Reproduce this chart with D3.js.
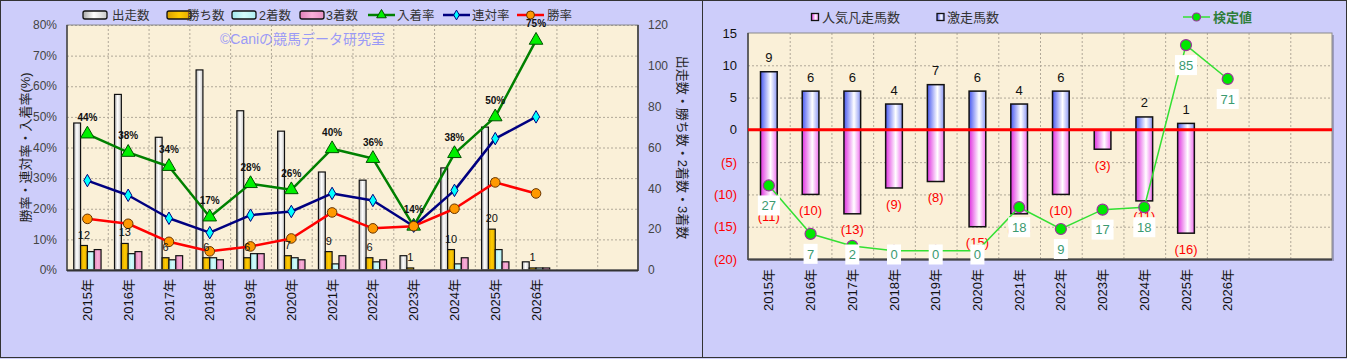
<!DOCTYPE html>
<html><head><meta charset="utf-8">
<script src="https://cdn.jsdelivr.net/npm/d3@7/dist/d3.min.js"></script>
<style>
html,body{margin:0;padding:0;background:#cdcdfa;}
svg{display:block;font-family:"Liberation Sans","Noto Sans CJK JP",sans-serif;}
</style></head><body>
<svg id="c" width="1347" height="359"></svg>
<script>
// ---------- data ----------
const years = ["2015年","2016年","2017年","2018年","2019年","2020年","2021年","2022年","2023年","2024年","2025年","2026年"];
const slots = 14; // category slots on the axis (last two empty)
const runs    = [72, 86, 65, 98, 78, 68, 48, 44, 7, 50, 70, 4];
const wins    = [12, 13, 6, 6, 6, 7, 9, 6, 1, 10, 20, 1];
const seconds = [9, 8, 5, 6, 8, 6, 3, 4, 0, 3, 10, 1];
const thirds  = [10, 9, 7, 5, 8, 5, 7, 5, 0, 6, 4, 1];
const placeRate    = [44.4, 38.4, 33.8, 17.3, 28.2, 26.2, 39.6, 36.4, 14.3, 38.0, 50.0, 75.0];
const quinellaRate = [29.2, 24.4, 16.9, 12.2, 17.9, 19.1, 25.0, 22.7, 14.3, 26.0, 42.9, 50.0];
const winRate      = [16.7, 15.1, 9.2, 6.1, 7.7, 10.3, 18.8, 13.6, 14.3, 20.0, 28.6, 25.0];
const rateTicks  = [0, 10, 20, 30, 40, 50, 60, 70, 80];
const countTicks = [0, 20, 40, 60, 80, 100, 120];
const leftLegend = ["出走数", "勝ち数", "2着数", "3着数", "入着率", "連対率", "勝率"];

const gekisou  = [9, 6, 6, 4, 7, 6, 4, 6, 0, 2, 1, 0];
const bonsou   = [-11, -10, -13, -9, -8, -15, -13, -10, -3, -11, -16, 0];
const kentei   = [27, 7, 2, 0, 0, 0, 18, 9, 17, 18, 85, 71];
const diffTicks = [15, 10, 5, 0, -5, -10, -15, -20];
const rightLegend = ["人気凡走馬数", "激走馬数", "検定値"];
const watermark = "©Caniの競馬データ研究室";

// ---------- setup ----------
const svg = d3.select("#c");
const defs = svg.append("defs");
function hgrad(id, stops) {
  const g = defs.append("linearGradient").attr("id", id).attr("x1", 0).attr("x2", 1).attr("y1", 0).attr("y2", 0);
  stops.forEach(s => g.append("stop").attr("offset", s[0]).attr("stop-color", s[1]));
}
hgrad("gWhite", [[0, "#a8a8a8"], [0.45, "#ffffff"], [1, "#c8c8c8"]]);
hgrad("gGold", [[0, "#d8a000"], [0.5, "#ffcc00"], [1, "#e0aa00"]]);
hgrad("gCyan", [[0, "#a0e8ec"], [0.5, "#d4fbfb"], [1, "#aeeef0"]]);
hgrad("gPink", [[0, "#e080b8"], [0.5, "#f8b0d8"], [1, "#e890c4"]]);
hgrad("gBlue", [[0, "#4858f0"], [0.6, "#ffffff"], [1, "#8a96f4"]]);
hgrad("gMag", [[0, "#e030e0"], [0.6, "#ffffff"], [1, "#f070f0"]]);

// panels
svg.append("rect").attr("x", 0.5).attr("y", 0.5).attr("width", 702).attr("height", 357).attr("fill", "#cdcdfa").attr("stroke", "#333").attr("stroke-width", 1);
svg.append("rect").attr("x", 702.5).attr("y", 0.5).attr("width", 644).attr("height", 357).attr("fill", "#cdcdfa").attr("stroke", "#333").attr("stroke-width", 1);

const plotBg = "#faf0d8";
const gridColor = "#b0a898";

// ================= LEFT CHART =================
const L = {x0: 67, x1: 638, y0: 25, y1: 270};
const xL = d3.scaleBand().domain(d3.range(slots)).range([L.x0, L.x1]);
const yRate = d3.scaleLinear().domain([0, 80]).range([L.y1, L.y0]);
const yCount = d3.scaleLinear().domain([0, 120]).range([L.y1, L.y0]);
const gL = svg.append("g");
gL.append("rect").attr("x", L.x0).attr("y", L.y0).attr("width", L.x1 - L.x0).attr("height", L.y1 - L.y0).attr("fill", plotBg);
// grid
gL.selectAll(".hg").data(rateTicks.slice(1)).join("line")
  .attr("x1", L.x0).attr("x2", L.x1).attr("y1", d => yRate(d) + 0.5).attr("y2", d => yRate(d) + 0.5)
  .attr("stroke", gridColor).attr("stroke-dasharray", "2,2");
gL.selectAll(".vg").data(d3.range(1, slots)).join("line")
  .attr("x1", d => xL(d) + 0.5).attr("x2", d => xL(d) + 0.5).attr("y1", L.y0).attr("y2", L.y1)
  .attr("stroke", gridColor).attr("stroke-dasharray", "2,2");
gL.append("text").attr("x", 220).attr("y", 44).attr("fill", "#9a9af6").attr("font-size", 14).text(watermark);

// bars
const bw = xL.bandwidth();
const groupW = bw * 0.67;
const xs = d3.scaleBand().domain([0, 1, 2, 3]).range([0, groupW]);
const barSeries = [
  {vals: runs, fill: "url(#gWhite)"},
  {vals: wins, fill: "url(#gGold)"},
  {vals: seconds, fill: "url(#gCyan)"},
  {vals: thirds, fill: "url(#gPink)"}
];
barSeries.forEach((s, si) => {
  gL.append("g").selectAll("rect").data(s.vals).join("rect")
    .attr("x", (d, i) => xL(i) + (bw - groupW) / 2 + xs(si))
    .attr("y", d => yCount(d))
    .attr("width", xs.bandwidth())
    .attr("height", d => L.y1 - yCount(d))
    .attr("fill", s.fill).attr("stroke", "#111").attr("stroke-width", 1.2)
    .attr("display", d => d > 0 ? null : "none");
});
// frame
gL.append("rect").attr("x", L.x0).attr("y", L.y0).attr("width", L.x1 - L.x0).attr("height", L.y1 - L.y0)
  .attr("fill", "none").attr("stroke", "#8a8a8a").attr("stroke-width", 1);
gL.append("line").attr("x1", L.x0).attr("x2", L.x0).attr("y1", L.y0).attr("y2", L.y1 + 1).attr("stroke", "#444").attr("stroke-width", 1.5);
gL.append("line").attr("x1", L.x1).attr("x2", L.x1).attr("y1", L.y0).attr("y2", L.y1 + 1).attr("stroke", "#555").attr("stroke-width", 2);
gL.append("line").attr("x1", L.x0).attr("x2", L.x1).attr("y1", L.y1 + 0.5).attr("y2", L.y1 + 0.5).attr("stroke", "#333").attr("stroke-width", 2);

// lines
const cx = i => xL(i) + bw / 2;
function drawLine(vals, color, width) {
  gL.append("path").datum(vals)
    .attr("d", d3.line().x((d, i) => cx(i)).y(d => yRate(d)))
    .attr("fill", "none").attr("stroke", color).attr("stroke-width", width).attr("stroke-linejoin", "round");
}
drawLine(placeRate, "#008000", 2.5);
gL.append("g").selectAll("path").data(placeRate).join("path")
  .attr("d", d3.symbol(d3.symbolTriangle, 80))
  .attr("transform", (d, i) => `translate(${cx(i)},${yRate(d)})`)
  .attr("fill", "#00f000").attr("stroke", "#005000").attr("stroke-width", 1);
drawLine(quinellaRate, "#000080", 2.5);
gL.append("g").selectAll("path").data(quinellaRate).join("path")
  .attr("d", d3.symbol(d3.symbolDiamond, 45))
  .attr("transform", (d, i) => `translate(${cx(i)},${yRate(d)})`)
  .attr("fill", "#00ffff").attr("stroke", "#000080").attr("stroke-width", 1);
drawLine(winRate, "#ff0000", 2.5);
gL.append("g").selectAll("circle").data(winRate).join("circle")
  .attr("cx", (d, i) => cx(i)).attr("cy", d => yRate(d)).attr("r", 4.8)
  .attr("fill", "#ff9900").attr("stroke", "#663300").attr("stroke-width", 1);

// data labels
gL.append("g").selectAll("text").data(placeRate).join("text")
  .attr("x", (d, i) => cx(i)).attr("y", d => yRate(d) - 13)
  .attr("text-anchor", "middle").attr("font-size", 10).attr("font-weight", "bold").attr("fill", "#111")
  .text(d => Math.round(d) + "%");
gL.append("g").selectAll("text").data(wins).join("text")
  .attr("x", (d, i) => xL(i) + (bw - groupW) / 2 + xs(1) + xs.bandwidth() / 2)
  .attr("y", d => yCount(d) - 7)
  .attr("text-anchor", "middle").attr("font-size", 11).attr("fill", "#111")
  .text(d => d);

// axes text
gL.append("g").selectAll("text").data(rateTicks).join("text")
  .attr("x", 57).attr("y", d => yRate(d)).attr("dy", "0.35em")
  .attr("text-anchor", "end").attr("font-size", 12).attr("fill", "#444")
  .text(d => d + "%");
gL.append("g").selectAll("text").data(countTicks).join("text")
  .attr("x", 648).attr("y", d => yCount(d)).attr("dy", "0.35em")
  .attr("font-size", 12).attr("fill", "#444")
  .text(d => d);
gL.append("g").selectAll("text").data(years).join("text")
  .attr("transform", (d, i) => `translate(${cx(i)},${L.y1 + 9}) rotate(-90)`)
  .attr("dy", "0.35em").attr("text-anchor", "end").attr("font-size", 13).attr("fill", "#111")
  .text(d => d);
gL.append("text").attr("transform", `translate(25,${(L.y0 + L.y1) / 2}) rotate(-90)`)
  .attr("dy", "0.35em").attr("text-anchor", "middle").attr("font-size", 13).attr("fill", "#222")
  .text("勝率・連対率・入着率(%)");
gL.append("text").attr("transform", `translate(683,${(L.y0 + L.y1) / 2}) rotate(90)`)
  .attr("dy", "0.35em").attr("text-anchor", "middle").attr("font-size", 13).attr("fill", "#222")
  .text("出走数・勝ち数・2着数・3着数");

// legend left
const legY = 15;
const legBars = [
  {x: 83, tx: 112, fill: "url(#gWhite)"},
  {x: 167, tx: 187, fill: "url(#gGold)"},
  {x: 232, tx: 259, fill: "url(#gCyan)"},
  {x: 300, tx: 326, fill: "url(#gPink)"}
];
legBars.forEach((b, i) => {
  gL.append("rect").attr("x", b.x).attr("y", legY - 4).attr("width", 24).attr("height", 8).attr("rx", 2)
    .attr("fill", b.fill).attr("stroke", "#111").attr("stroke-width", 1.3);
  gL.append("text").attr("x", b.tx).attr("y", legY).attr("dy", "0.36em").attr("font-size", 12.5).attr("fill", "#333").text(leftLegend[i]);
});
const legLines = [
  {x: 368, tx: 397, color: "#008000", mk: "tri"},
  {x: 443, tx: 472, color: "#000080", mk: "dia"},
  {x: 517, tx: 547, color: "#ff0000", mk: "cir"}
];
legLines.forEach((b, i) => {
  gL.append("line").attr("x1", b.x).attr("x2", b.x + 27).attr("y1", legY).attr("y2", legY).attr("stroke", b.color).attr("stroke-width", 2.5);
  const mx = b.x + 13.5;
  if (b.mk === "tri") gL.append("path").attr("d", d3.symbol(d3.symbolTriangle, 40)).attr("transform", `translate(${mx},${legY})`).attr("fill", "#00f000").attr("stroke", "#005000");
  if (b.mk === "dia") gL.append("path").attr("d", d3.symbol(d3.symbolDiamond, 28)).attr("transform", `translate(${mx},${legY})`).attr("fill", "#00ffff").attr("stroke", "#000080");
  if (b.mk === "cir") gL.append("circle").attr("cx", mx).attr("cy", legY).attr("r", 4).attr("fill", "#ff9900").attr("stroke", "#663300");
  gL.append("text").attr("x", b.tx).attr("y", legY).attr("dy", "0.36em").attr("font-size", 12.5).attr("fill", "#333").text(leftLegend[4 + i]);
});

// ================= RIGHT CHART =================
const R = {x0: 748, x1: 1332, y0: 33, y1: 259};
const xR = d3.scaleBand().domain(d3.range(slots)).range([R.x0, R.x1]);
const yDiff = d3.scaleLinear().domain([-20, 15]).range([R.y1, R.y0]);
const yKen = d3.scaleLinear().domain([-3.4, 90]).range([R.y1, R.y0]);
const gR = svg.append("g");
gR.append("rect").attr("x", R.x0 + 2).attr("y", R.y0 + 2).attr("width", R.x1 - R.x0).attr("height", R.y1 - R.y0).attr("fill", "#9c9cc0");
gR.append("rect").attr("x", R.x0).attr("y", R.y0).attr("width", R.x1 - R.x0).attr("height", R.y1 - R.y0).attr("fill", plotBg);
gR.selectAll(".hg").data(diffTicks.filter(d => d !== 0 && d !== -20 && d !== 15)).join("line")
  .attr("x1", R.x0).attr("x2", R.x1).attr("y1", d => yDiff(d) + 0.5).attr("y2", d => yDiff(d) + 0.5)
  .attr("stroke", gridColor).attr("stroke-dasharray", "2,2");
gR.selectAll(".vg").data(d3.range(1, slots)).join("line")
  .attr("x1", d => xR(d) + 0.5).attr("x2", d => xR(d) + 0.5).attr("y1", R.y0).attr("y2", R.y1)
  .attr("stroke", gridColor).attr("stroke-dasharray", "2,2");
const bwR = xR.bandwidth();
const barWR = bwR * 0.4;
const cxR = i => xR(i) + bwR / 2;
gR.append("g").selectAll("rect").data(bonsou).join("rect")
  .attr("x", (d, i) => cxR(i) - barWR / 2).attr("y", yDiff(0))
  .attr("width", barWR).attr("height", d => yDiff(d) - yDiff(0))
  .attr("fill", "url(#gMag)").attr("stroke", "#111").attr("stroke-width", 1.5)
  .attr("display", d => d < 0 ? null : "none");
gR.append("g").selectAll("rect").data(gekisou).join("rect")
  .attr("x", (d, i) => cxR(i) - barWR / 2).attr("y", d => yDiff(d))
  .attr("width", barWR).attr("height", d => yDiff(0) - yDiff(d))
  .attr("fill", "url(#gBlue)").attr("stroke", "#111").attr("stroke-width", 1.5)
  .attr("display", d => d > 0 ? null : "none");
// frame
gR.append("rect").attr("x", R.x0).attr("y", R.y0).attr("width", R.x1 - R.x0).attr("height", R.y1 - R.y0)
  .attr("fill", "none").attr("stroke", "#8a8a8a").attr("stroke-width", 1);
gR.append("line").attr("x1", R.x0).attr("x2", R.x0).attr("y1", R.y0).attr("y2", R.y1 + 1).attr("stroke", "#444").attr("stroke-width", 1.5);
gR.append("line").attr("x1", R.x0).attr("x2", R.x1).attr("y1", R.y1 + 0.5).attr("y2", R.y1 + 0.5).attr("stroke", "#444").attr("stroke-width", 2);
// zero line
gR.append("line").attr("x1", R.x0).attr("x2", R.x1).attr("y1", yDiff(0)).attr("y2", yDiff(0)).attr("stroke", "#ff0000").attr("stroke-width", 3);

// bar labels
gR.append("g").selectAll("text").data(gekisou).join("text")
  .attr("x", (d, i) => cxR(i)).attr("y", d => yDiff(d) - 14).attr("dy", "0.35em")
  .attr("text-anchor", "middle").attr("font-size", 13).attr("fill", "#111")
  .text(d => d > 0 ? d : "");
gR.append("g").selectAll("text").data(bonsou).join("text")
  .attr("x", (d, i) => cxR(i)).attr("y", d => yDiff(d) + 16).attr("dy", "0.35em")
  .attr("text-anchor", "middle").attr("font-size", 13).attr("fill", "#ff0000")
  .text(d => d < 0 ? `(${-d})` : "");

// kentei line
gR.append("path").datum(kentei)
  .attr("d", d3.line().x((d, i) => cxR(i)).y(d => yKen(d)))
  .attr("fill", "none").attr("stroke", "#33e033").attr("stroke-width", 1.5);
gR.append("g").selectAll("circle").data(kentei).join("circle")
  .attr("cx", (d, i) => cxR(i)).attr("cy", d => yKen(d)).attr("r", 5.5)
  .attr("fill", "#00e800").attr("stroke", "#993399").attr("stroke-width", 1.2);
const kl = gR.append("g").selectAll("g").data(kentei).join("g")
  .attr("transform", (d, i) => `translate(${cxR(i)},${Math.min(yKen(d) + 20, R.y1 - 4.5)})`);
kl.append("rect").attr("x", d => -(String(d).length * 4 + 3)).attr("y", -10)
  .attr("width", d => String(d).length * 8 + 6).attr("height", 20).attr("fill", "#ffffff");
kl.append("text").attr("text-anchor", "middle").attr("dy", "0.36em").attr("font-size", 13).attr("fill", "#3a9a70").text(d => d);

// axis text
gR.append("g").selectAll("text").data(diffTicks).join("text")
  .attr("x", 737).attr("y", d => yDiff(d)).attr("dy", "0.35em")
  .attr("text-anchor", "end").attr("font-size", 13)
  .attr("fill", d => d < 0 ? "#ff0000" : "#111")
  .text(d => d < 0 ? `(${-d})` : d);
gR.append("g").selectAll("text").data(years).join("text")
  .attr("transform", (d, i) => `translate(${cxR(i)},${R.y1 + 10}) rotate(-90)`)
  .attr("dy", "0.35em").attr("text-anchor", "end").attr("font-size", 13).attr("fill", "#111")
  .text(d => d);

// legend right
const ry = 17;
gR.append("rect").attr("x", 811.5).attr("y", ry - 3.5).attr("width", 7).attr("height", 7).attr("fill", "url(#gMag)").attr("stroke", "#111").attr("stroke-width", 1.3);
gR.append("text").attr("x", 822).attr("y", ry).attr("dy", "0.36em").attr("font-size", 13).attr("fill", "#333").text(rightLegend[0]);
gR.append("rect").attr("x", 937).attr("y", ry - 3.5).attr("width", 7).attr("height", 7).attr("fill", "url(#gBlue)").attr("stroke", "#111").attr("stroke-width", 1.3);
gR.append("text").attr("x", 947).attr("y", ry).attr("dy", "0.36em").attr("font-size", 13).attr("fill", "#333").text(rightLegend[1]);
gR.append("line").attr("x1", 1183).attr("x2", 1210).attr("y1", ry).attr("y2", ry).attr("stroke", "#33e033").attr("stroke-width", 1.5);
gR.append("circle").attr("cx", 1196.5).attr("cy", ry).attr("r", 4).attr("fill", "#00e800").attr("stroke", "#993399").attr("stroke-width", 1.2);
gR.append("text").attr("x", 1213).attr("y", ry).attr("dy", "0.36em").attr("font-size", 13).attr("font-weight", "bold").attr("fill", "#2e7d3a").text(rightLegend[2]);
</script>
</body></html>
